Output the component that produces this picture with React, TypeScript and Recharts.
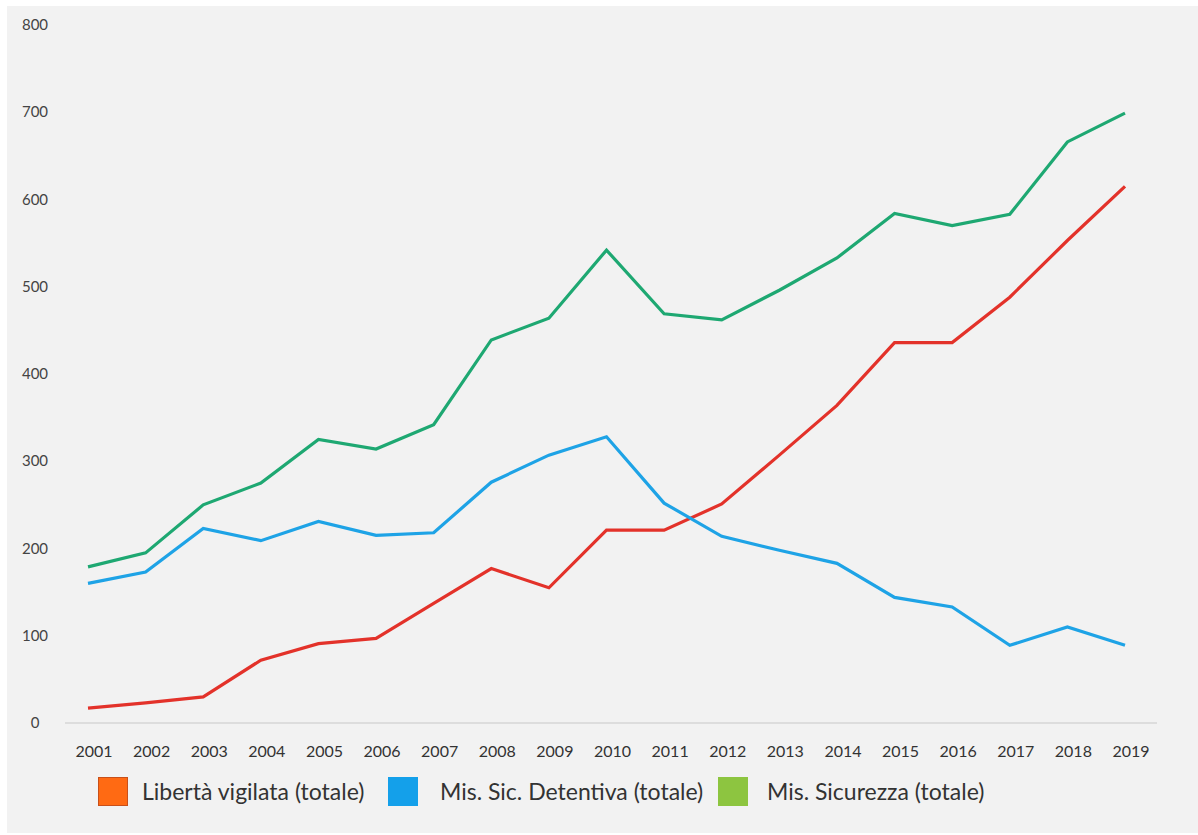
import React from 'react';
import { LineChart, Line, XAxis, YAxis } from 'recharts';

// Years on the x axis
const years = [
  '2001', '2002', '2003', '2004', '2005', '2006', '2007', '2008', '2009', '2010',
  '2011', '2012', '2013', '2014', '2015', '2016', '2017', '2018', '2019',
];

// Libertà vigilata (totale)
const liberta = [17, 23, 30, 72, 91, 97, 137, 177, 155, 221, 221, 251, 307, 364, 436, 436, 488, 553, 615];

// Mis. Sic. Detentiva (totale)
const detentiva = [160, 173, 223, 209, 231, 215, 218, 276, 307, 328, 252, 214, 198, 183, 144, 133, 89, 110, 89];

// Mis. Sicurezza (totale)
const sicurezza = [179, 195, 250, 275, 325, 314, 342, 439, 464, 542, 469, 462, 496, 533, 584, 570, 583, 666, 699];

const yTicks = [0, 100, 200, 300, 400, 500, 600, 700, 800];

const seriesNames = ['Libertà vigilata (totale)', 'Mis. Sic. Detentiva (totale)', 'Mis. Sicurezza (totale)'];

const data = years.map((year, i) => ({
  year,
  liberta: liberta[i],
  detentiva: detentiva[i],
  sicurezza: sicurezza[i],
}));

const FONT = 'Lato, "Open Sans", sans-serif';

// legend swatches are a different shade than the lines in the original
const legendItems = [
  { label: seriesNames[0], fill: '#ff6a13', border: '#c8501a', left: 91, textGap: 14 },
  { label: seriesNames[1], fill: '#14a0ea', border: '#14a0ea', left: 381, textGap: 22 },
  { label: seriesNames[2], fill: '#8dc540', border: '#8dc540', left: 711, textGap: 19 },
];

const LegendBox = () => (
  <div style={{ position: 'absolute', left: 0, top: 770, width: '100%', height: 30, fontFamily: FONT, fontSize: 23, color: '#333' }}>
    {legendItems.map((it) => (
      <div key={it.label} style={{ position: 'absolute', left: it.left, top: 0, display: 'flex', alignItems: 'center', height: 30 }}>
        <div
          style={{
            width: 28,
            height: 27,
            background: it.fill,
            border: `1.5px solid ${it.border}`,
            marginRight: it.textGap,
          }}
        />
        <span style={{ whiteSpace: 'nowrap' }}>{it.label}</span>
      </div>
    ))}
  </div>
);

const YTick = (props: any) => {
  const { y, payload } = props;
  return (
    <text x={28} y={y} dy={5} textAnchor="middle" fontSize={15} fill="#444" fontFamily={FONT}>
      {payload.value}
    </text>
  );
};

export default function App() {
  return (
    <div
      style={{
        position: 'absolute',
        left: 7,
        top: 6,
        width: 1191,
        height: 827,
        background: '#f2f2f2',
      }}
    >
      <LineChart width={1191} height={827} data={data} margin={{ top: 19, right: 41, bottom: 70, left: 0 }}>
        <XAxis
          dataKey="year"
          stroke="#d6d6d6"
          strokeWidth={1.5}
          tickLine={false}
          tickMargin={17}
          height={40}
          padding={{ left: 23, right: 32 }}
          tick={{ fontSize: 16, fill: '#333', fontFamily: FONT, dx: 6 }}
          interval={0}
        />
        <YAxis
          width={58}
          domain={[0, 800]}
          ticks={yTicks}
          axisLine={false}
          tickLine={false}
          tick={<YTick />}
        />
        <Line dataKey="liberta" name={seriesNames[0]} stroke="#e3322a" strokeWidth={3.2} dot={false} isAnimationActive={false} />
        <Line dataKey="detentiva" name={seriesNames[1]} stroke="#1ea3e6" strokeWidth={3.2} dot={false} isAnimationActive={false} />
        <Line dataKey="sicurezza" name={seriesNames[2]} stroke="#1ea872" strokeWidth={3.2} dot={false} isAnimationActive={false} />
      </LineChart>
      <LegendBox />
    </div>
  );
}
